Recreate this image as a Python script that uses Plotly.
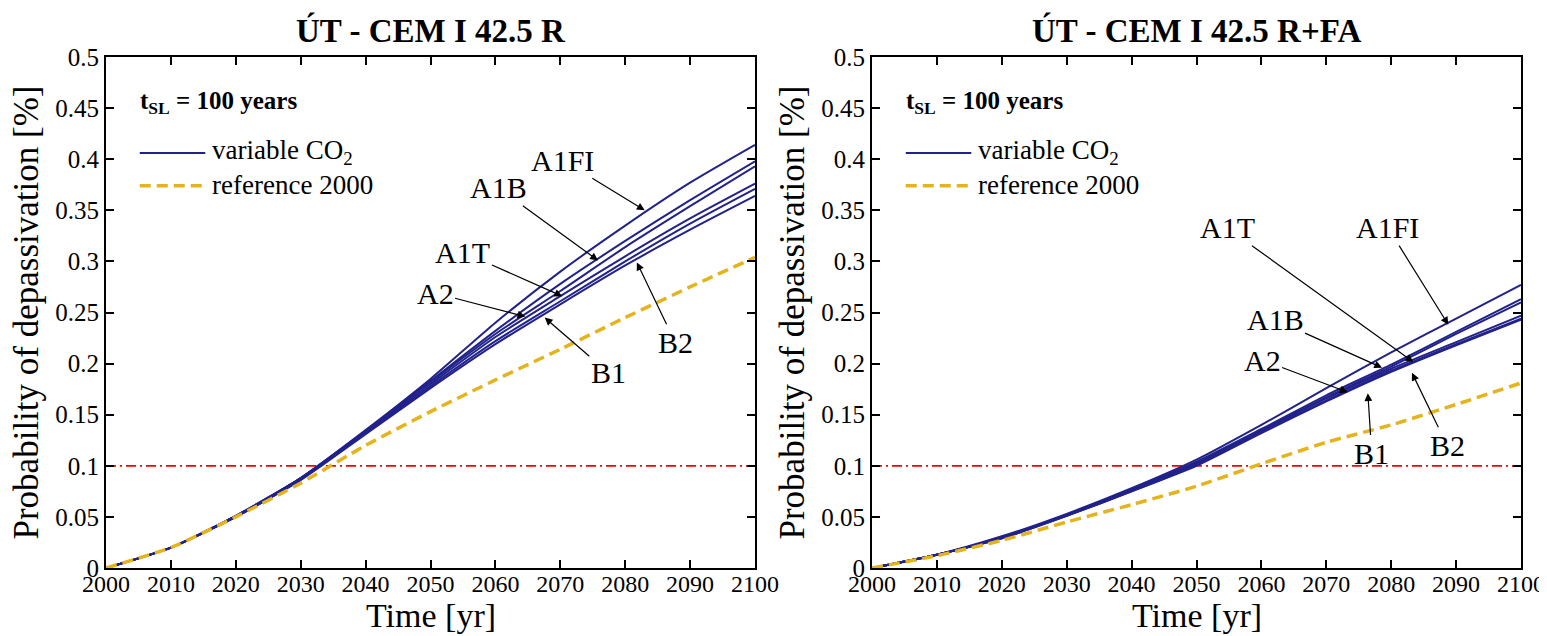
import plotly.graph_objects as go

# ---------------- data ----------------
years = [2000, 2010, 2020, 2030, 2040, 2050, 2060, 2070, 2080, 2090, 2100]
scenarios = ["A1FI", "A1B", "A1T", "A2", "B1", "B2"]

# CEM I 42.5 R
left_A1FI = [0, 0.020, 0.051, 0.088, 0.135, 0.185, 0.240, 0.290, 0.335, 0.377, 0.414]
left_A1B = [0, 0.020, 0.051, 0.088, 0.134, 0.183, 0.232, 0.278, 0.320, 0.360, 0.398]
left_A1T = [0, 0.020, 0.051, 0.088, 0.134, 0.182, 0.229, 0.271, 0.314, 0.354, 0.393]
left_A2 = [0, 0.020, 0.050, 0.087, 0.133, 0.180, 0.226, 0.266, 0.305, 0.342, 0.376]
left_B1 = [0, 0.020, 0.050, 0.087, 0.132, 0.178, 0.222, 0.261, 0.300, 0.337, 0.371]
left_B2 = [0, 0.020, 0.050, 0.086, 0.131, 0.176, 0.219, 0.258, 0.296, 0.331, 0.364]
left_ref = [0, 0.020, 0.050, 0.083, 0.120, 0.153, 0.184, 0.214, 0.245, 0.275, 0.304]

# CEM I 42.5 R+FA
right_A1FI = [0, 0.013, 0.031, 0.053, 0.078, 0.106, 0.140, 0.176, 0.211, 0.244, 0.277]
right_A1B = [0, 0.013, 0.030, 0.052, 0.077, 0.103, 0.135, 0.167, 0.197, 0.229, 0.260]
right_A1T = [0, 0.013, 0.030, 0.052, 0.077, 0.104, 0.136, 0.169, 0.199, 0.231, 0.263]
right_A2 = [0, 0.013, 0.030, 0.052, 0.076, 0.102, 0.134, 0.166, 0.195, 0.221, 0.247]
right_B1 = [0, 0.013, 0.029, 0.051, 0.075, 0.100, 0.132, 0.163, 0.192, 0.218, 0.243]
right_B2 = [0, 0.013, 0.029, 0.051, 0.075, 0.101, 0.133, 0.164, 0.193, 0.219, 0.244]
right_ref = [0, 0.012, 0.027, 0.045, 0.062, 0.080, 0.102, 0.123, 0.140, 0.160, 0.181]

threshold = 0.1
threshold_years = [2000, 2100]

x_tick_vals = [2000, 2010, 2020, 2030, 2040, 2050, 2060, 2070, 2080, 2090, 2100]
x_tick_text = ["2000", "2010", "2020", "2030", "2040", "2050", "2060", "2070", "2080", "2090", "2100"]
y_tick_vals = [0, 0.05, 0.1, 0.15, 0.2, 0.25, 0.3, 0.35, 0.4, 0.45, 0.5]
y_tick_text = ["0", "0.05", "0.1", "0.15", "0.2", "0.25", "0.3", "0.35", "0.4", "0.45", "0.5"]

panel_titles = ["ÚT - CEM I 42.5 R", "ÚT - CEM I 42.5 R+FA"]
x_title = "Time [yr]"
y_title = "Probability of depassivation [%]"
legend_title = "<b>t<sub>SL</sub> = 100 years</b>"
legend_variable = "variable CO<sub>2</sub>"
legend_reference = "reference 2000"

# label annotations: (name, tip_x, tip_y, label_x, label_y)
left_labels = [
    ("A1FI", 2083.0, 0.350, 2070.4, 0.399),
    ("A1B", 2075.8, 0.301, 2060.4, 0.372),
    ("A1T", 2070.3, 0.266, 2055.0, 0.309),
    ("A2", 2064.6, 0.246, 2050.7, 0.269),
    ("B1", 2067.6, 0.245, 2077.4, 0.191),
    ("B2", 2081.8, 0.299, 2087.7, 0.221),
]
right_labels = [
    ("A1FI", 2088.8, 0.238, 2079.5, 0.333),
    ("A1T", 2083.4, 0.2016, 2054.7, 0.333),
    ("A1B", 2078.6, 0.196, 2062.1, 0.243),
    ("A2", 2073.3, 0.172, 2060.1, 0.2035),
    ("B1", 2076.4, 0.171, 2077.0, 0.1125),
    ("B2", 2083.2, 0.191, 2088.6, 0.120),
]

# ---------------- styles ----------------
FONT = "Liberation Serif, Times New Roman, serif"
BLUE = "#22228c"
YELLOW = "#e5b31b"
RED = "#ff0000"

left_series = [left_A1FI, left_A1B, left_A1T, left_A2, left_B1, left_B2]
right_series = [right_A1FI, right_A1B, right_A1T, right_A2, right_B1, right_B2]

fig = go.Figure()

panels = [
    ("x", "y", left_series, left_ref, left_labels),
    ("x2", "y2", right_series, right_ref, right_labels),
]

annotations = []
shapes = []
for i, (xa, ya, series, ref, labels) in enumerate(panels):
    fig.add_trace(go.Scatter(x=threshold_years, y=[threshold, threshold], mode="lines",
                             line=dict(color=RED, width=1.8, dash="10px,4px,2px,4px"),
                             xaxis=xa, yaxis=ya, showlegend=False))
    for name, vals in zip(scenarios, series):
        fig.add_trace(go.Scatter(x=years, y=vals, mode="lines", name=name,
                                 line=dict(color=BLUE, width=2, shape="spline", smoothing=0.6),
                                 xaxis=xa, yaxis=ya, showlegend=False))
    fig.add_trace(go.Scatter(x=years, y=ref, mode="lines", name="reference 2000",
                             line=dict(color=YELLOW, width=3.5, dash="11px,6px", shape="spline", smoothing=0.5),
                             xaxis=xa, yaxis=ya, showlegend=False))

    for name, tx, ty, lx, ly in labels:
        annotations.append(dict(
            x=tx, y=ty, ax=lx, ay=ly, xref=xa, yref=ya, axref=xa, ayref=ya,
            text=name, showarrow=True, arrowhead=2, arrowsize=1.3, arrowwidth=1.2,
            arrowcolor="black", standoff=0,
            font=dict(family=FONT, size=30, color="black")))

    dx = f"{xa} domain"
    dy = f"{ya} domain"
    # panel title
    annotations.append(dict(x=0.5, y=1.0, xref=dx, yref=dy, yshift=27, text=f"<b>{panel_titles[i]}</b>",
                            showarrow=False, xanchor="center", yanchor="middle",
                            font=dict(family=FONT, size=33, color="black")))
    # axis titles
    annotations.append(dict(x=0.5, y=0.0, xref=dx, yref=dy, yshift=-47, text=x_title,
                            showarrow=False, xanchor="center", yanchor="middle",
                            font=dict(family=FONT, size=34, color="black")))
    annotations.append(dict(x=0.0, y=0.5, xref=dx, yref=dy, xshift=-80, text=y_title, textangle=-90,
                            showarrow=False, xanchor="center", yanchor="middle",
                            font=dict(family=FONT, size=35, color="black")))
    # legend
    annotations.append(dict(x=0.049, y=0.910, xref=dx, yref=dy, text=legend_title, showarrow=False,
                            xanchor="left", yanchor="middle", font=dict(family=FONT, size=25, color="black")))
    annotations.append(dict(x=0.160, y=0.814, xref=dx, yref=dy, text=legend_variable, showarrow=False,
                            xanchor="left", yanchor="middle", font=dict(family=FONT, size=27, color="black")))
    annotations.append(dict(x=0.160, y=0.749, xref=dx, yref=dy, text=legend_reference, showarrow=False,
                            xanchor="left", yanchor="middle", font=dict(family=FONT, size=27, color="black")))
    shapes.append(dict(type="line", xref=dx, yref=dy, x0=0.052, x1=0.153, y0=0.812, y1=0.812,
                       line=dict(color=BLUE, width=2)))
    shapes.append(dict(type="line", xref=dx, yref=dy, x0=0.052, x1=0.153, y0=0.748, y1=0.748,
                       line=dict(color=YELLOW, width=3.5, dash="11px,6px")))

axis_common = dict(showline=True, linecolor="black", linewidth=2, mirror="ticks",
                   ticks="inside", ticklen=8, tickwidth=1.5, tickcolor="black",
                   showgrid=False, zeroline=False, automargin=False,
                   tickfont=dict(family=FONT, size=25, color="black"))

xaxis_cfg = dict(axis_common, range=[2000, 2100], tickvals=x_tick_vals, ticktext=x_tick_text,
                 ticklabelstandoff=-7, tickfont=dict(family=FONT, size=24, color="black"))
yaxis_cfg = dict(axis_common, range=[0, 0.5], tickvals=y_tick_vals, ticktext=y_tick_text)

# page body adds an 8px offset; compensate so pixel positions match the target
OFF = 8
W, H = 1547, 636
fig.update_layout(
    width=W, height=H, margin=dict(l=0, r=0, t=0, b=0, autoexpand=False),
    paper_bgcolor="white", plot_bgcolor="white",
    xaxis=dict(xaxis_cfg, domain=[(106 - OFF) / W, (755 - OFF) / W], anchor="y"),
    yaxis=dict(yaxis_cfg, domain=[1 - (568 - OFF) / H, 1 - (57 - OFF) / H], anchor="x"),
    xaxis2=dict(xaxis_cfg, domain=[(872 - OFF) / W, (1521 - OFF) / W], anchor="y2"),
    yaxis2=dict(yaxis_cfg, domain=[1 - (568 - OFF) / H, 1 - (57 - OFF) / H], anchor="x2"),
    annotations=annotations, shapes=shapes, showlegend=False,
)

fig.write_html("out.html")
